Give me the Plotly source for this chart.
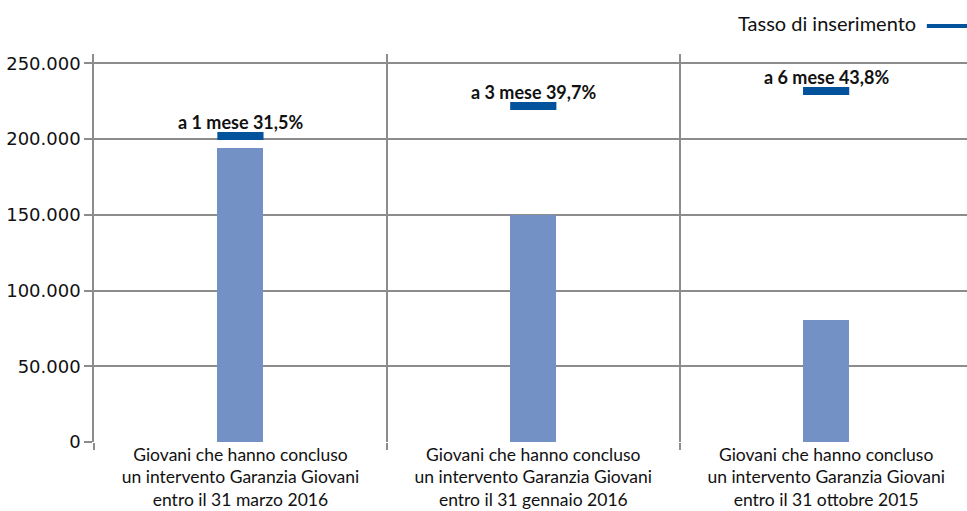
import plotly.graph_objects as go

categories = [
    "Giovani che hanno concluso<br>un intervento Garanzia Giovani<br>entro il 31 marzo 2016",
    "Giovani che hanno concluso<br>un intervento Garanzia Giovani<br>entro il 31 gennaio 2016",
    "Giovani che hanno concluso<br>un intervento Garanzia Giovani<br>entro il 31 ottobre 2015",
]
giovani = [194000, 150000, 80800]
mesi = [1, 3, 6]
tasso = [31.5, 39.7, 43.8]
y_ticks = [0, 50000, 100000, 150000, 200000, 250000]
legend_name = "Tasso di inserimento"

FONT = "Lato"
TICKFONT = "DejaVu Sans"
GRID = "#8c8c8c"
BAR = "#7391c5"
MARK = "#03529c"
TXT = "#111111"

x = list(range(len(categories)))

fig = go.Figure()
fig.add_trace(go.Bar(
    x=x, y=giovani, width=0.157, marker=dict(color=BAR, line=dict(width=0)),
    showlegend=False, hoverinfo="skip",
))
fig.add_trace(go.Scatter(
    x=x, y=tasso, yaxis="y2", mode="markers", name=legend_name,
    marker=dict(symbol="line-ew", size=33, line=dict(width=8, color=MARK), color=MARK),
    showlegend=False,
))

for xi, m, r in zip(x, mesi, tasso):
    label = f"a {m} mese {r:.1f}%".replace(".", ",")
    fig.add_annotation(
        x=xi, y=r, yref="y2", text=f"<b>{label}</b>", showarrow=False,
        yanchor="middle", yshift=14,
        font=dict(family=FONT, size=18, color=TXT),
    )

# legend built manually: text followed by the dash on its right
fig.add_annotation(
    xref="paper", yref="paper", x=0.9439, y=1.0787, text=legend_name,
    showarrow=False, xanchor="right", yanchor="middle",
    font=dict(family=FONT, size=20, color=TXT),
)
fig.add_shape(
    type="rect", xref="paper", yref="paper", x0=0.954, x1=1.01, y0=1.0671, y1=1.0774,
    fillcolor=MARK, line=dict(width=0),
)

fig.update_layout(
    width=967, height=511,
    margin=dict(l=94, r=0, t=54, b=69, pad=0, autoexpand=False),
    paper_bgcolor="white", plot_bgcolor="white",
    separators=",.",
    bargap=0,
    xaxis=dict(
        range=[-0.5, 2.481], tickmode="array", tickvals=x, ticktext=categories,
        showgrid=False, zeroline=False, showline=False, ticks="",
        automargin=False, ticklabelstandoff=0,
        tickfont=dict(family=FONT, size=17.5, color=TXT),
        minor=dict(tickmode="array", tickvals=[-0.5, 0.5, 1.5], ticks="outside",
                   ticklen=7, tickwidth=1.5, tickcolor=GRID,
                   showgrid=True, gridcolor=GRID, gridwidth=1.5),
    ),
    yaxis=dict(
        range=[0, 256150], tickmode="array", tickvals=y_ticks, tickformat=",.0f",
        showgrid=True, gridcolor=GRID, gridwidth=1.5, zeroline=False,
        showline=True, linecolor=GRID, linewidth=1.5, automargin=False,
        ticks="outside", ticklen=8, tickwidth=1.5, tickcolor=GRID,
        tickfont=dict(family=TICKFONT, size=18, color=TXT),
    ),
    yaxis2=dict(
        range=[-52.05, 53.91], overlaying="y", side="right", visible=False,
        showgrid=False, zeroline=False, automargin=False,
    ),
)

fig.write_html("out.html")
